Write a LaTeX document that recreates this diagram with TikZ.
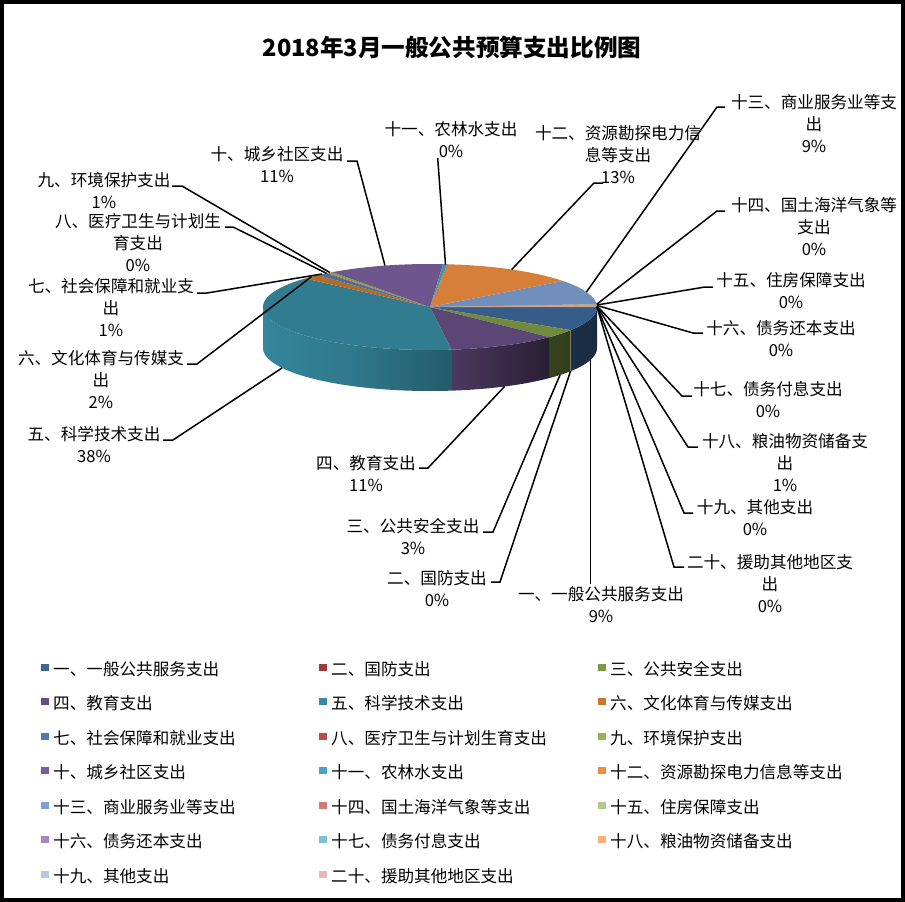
\documentclass[tikz,border=0pt]{standalone}
\usepackage{fontspec}
\newfontfamily\cjk{Noto Sans CJK SC}
\definecolor{c1}{HTML}{3B6596}
\definecolor{c2}{HTML}{9D3B38}
\definecolor{c3}{HTML}{7C9A45}
\definecolor{c4}{HTML}{664E82}
\definecolor{c5}{HTML}{368AA0}
\definecolor{c6}{HTML}{C7772F}
\definecolor{c7}{HTML}{4A7BB7}
\definecolor{c8}{HTML}{B94B48}
\definecolor{c9}{HTML}{93B354}
\definecolor{c10}{HTML}{7A5F9C}
\definecolor{c11}{HTML}{47A4BE}
\definecolor{c12}{HTML}{EE8D42}
\definecolor{c13}{HTML}{7F9FD0}
\definecolor{c14}{HTML}{CC7B78}
\definecolor{c15}{HTML}{AEC98A}
\definecolor{c16}{HTML}{9F8BBA}
\definecolor{c17}{HTML}{7DC0D6}
\definecolor{c18}{HTML}{F8AE78}
\definecolor{c19}{HTML}{B7C8E4}
\definecolor{c20}{HTML}{E3B8B7}
\tikzset{
  leader/.style={draw=black, line width=1.5pt, line join=miter},
  lbl/.style={font=\cjk\fontsize{16.6}{22}\selectfont, align=center, inner sep=0pt},
  legtxt/.style={font=\cjk\fontsize{16.6}{20}\selectfont, anchor=west, inner sep=0pt},
  frame/.style={draw=black, line width=4pt},
}
\newcommand\topsl[3]{\fill[#3] (430,307) -- plot[domain=#1:#2,samples=60,variable=\ang] ({430+167*cos(\ang)},{307+43*sin(\ang)}) -- cycle;}
\newcommand\sidesl[5]{\shade[left color=#3, right color=#5, middle color=#4] plot[domain=#1:#2,samples=60,variable=\ang] ({430+167*cos(\ang)},{307+43*sin(\ang)}) -- plot[domain=#2:#1,samples=60,variable=\ang] ({430+167*cos(\ang)},{348+43*sin(\ang)}) -- cycle;}
\begin{document}
\begin{tikzpicture}[x=1pt,y=-1pt]
\useasboundingbox (0,0) rectangle (905,902);
\fill[white] (0,0) rectangle (905,902);
\draw[frame] (2,2) rectangle (903,900);

% title
\node[font=\cjk\bfseries\fontsize{23.6}{26}\selectfont, inner sep=0pt] (title) at (452,47) {2018年3月一般公共预算支出比例图};

% side faces (front half)
\sidesl{0}{32.4}{c1!47!black}{c1!45!black}{c1!43!black}
\sidesl{32.4}{32.58}{c2!45!black}{c2!44!black}{c2!43!black}
\sidesl{32.58}{44.46}{c3!44!black}{c3!42!black}{c3!40!black}
\sidesl{44.46}{82.62}{c4!74!black}{c4!56!black}{c4!40!black}
\sidesl{82.62}{180}{c5!97!black}{c5!86!black}{c5!66!black}

% top faces
\topsl{0}{32.4}{c1!92!black}
\topsl{32.4}{32.58}{c2!90!black}
\topsl{32.58}{44.46}{c3!90!black}
\topsl{44.46}{82.62}{c4!90!black}
\topsl{82.62}{221.58}{c5!90!black}
\topsl{221.58}{228.06}{c6!90!black}
\topsl{228.06}{231.3}{c7!90!black}
\topsl{231.3}{232.02}{c8!90!black}
\topsl{232.02}{234.18}{c9!90!black}
\topsl{234.18}{274.5}{c10!90!black}
\topsl{274.5}{275.94}{c11!90!black}
\topsl{275.94}{322.74}{c12!90!black}
\topsl{322.74}{356.22}{c13!90!black}
\topsl{356.22}{356.58}{c14!90!black}
\topsl{356.58}{356.94}{c15!90!black}
\topsl{356.94}{357.12}{c16!90!black}
\topsl{357.12}{357.3}{c17!90!black}
\topsl{357.3}{359.82}{c18!90!black}
\topsl{359.82}{359.93}{c19!90!black}
\topsl{359.93}{360}{c20!90!black}

% labels
\node[lbl] (L1) at (601,605) {一、一般公共服务支出\\9\%};
\node[lbl] (L2) at (437,589) {二、国防支出\\0\%};
\node[lbl] (L3) at (413,537) {三、公共安全支出\\3\%};
\node[lbl] (L4) at (366,474) {四、教育支出\\11\%};
\node[lbl] (L5) at (94,445) {五、科学技术支出\\38\%};
\node[lbl] (L6) at (101,380) {六、文化体育与传媒支\\出\\2\%};
\node[lbl] (L7) at (111,308) {七、社会保障和就业支\\出\\1\%};
\node[lbl] (L8) at (138,243) {八、医疗卫生与计划生\\育支出\\0\%};
\node[lbl] (L9) at (104,191) {九、环境保护支出\\1\%};
\node[lbl] (L10) at (277,165) {十、城乡社区支出\\11\%};
\node[lbl] (L11) at (451,140) {十一、农林水支出\\0\%};
\node[lbl] (L12) at (618,155) {十二、资源勘探电力信\\息等支出\\13\%};
\node[lbl] (L13) at (814,124) {十三、商业服务业等支\\出\\9\%};
\node[lbl] (L14) at (814,227) {十四、国土海洋气象等\\支出\\0\%};
\node[lbl] (L15) at (791,291) {十五、住房保障支出\\0\%};
\node[lbl] (L16) at (781,339) {十六、债务还本支出\\0\%};
\node[lbl] (L17) at (768,400) {十七、债务付息支出\\0\%};
\node[lbl] (L18) at (785,463) {十八、粮油物资储备支\\出\\1\%};
\node[lbl] (L19) at (755,518) {十九、其他支出\\0\%};
\node[lbl] (L20) at (770,584) {二十、援助其他地区支\\出\\0\%};

% leader anchor points on the pie
\coordinate (t1) at (590.4,360);
\coordinate (t2) at (570.6,371);
\coordinate (t3) at (560,375);
\coordinate (t4) at (504.5,386.5);
\coordinate (t5) at (282,368);
\coordinate (t6) at (311.5,276.7);
\coordinate (t7) at (322,274);
\coordinate (t8) at (326.5,273.3);
\coordinate (t9) at (330,272.6);
\coordinate (t10) at (385,265.6);
\coordinate (t11) at (445.5,264.5);
\coordinate (t12) at (511.7,269.5);
\coordinate (t13) at (586.4,292);
\coordinate (t14) at (596.7,304.3);
\coordinate (t15) at (597,305);
\coordinate (t16) at (597,305.5);
\coordinate (t17) at (597,306);
\coordinate (t18) at (597,306.5);
\coordinate (t19) at (597,307);
\coordinate (t20) at (597,307);
% elbows
\coordinate (e1) at (590.4,584);
\coordinate (e2) at (500,582);   \coordinate (s2) at (491,582);
\coordinate (e3) at (493,532);   \coordinate (s3) at (483,532);
\coordinate (e4) at (428,468);   \coordinate (s4) at (419,468);
\coordinate (e5) at (173,440);   \coordinate (s5) at (163,440);
\coordinate (e6) at (197,364);   \coordinate (s6) at (187,364);
\coordinate (e7) at (207,293);   \coordinate (s7) at (197,293);
\coordinate (e8) at (233,227);   \coordinate (s8) at (225,227);
\coordinate (e9) at (182,186);   \coordinate (s9) at (172,186);
\coordinate (e10) at (357,161);  \coordinate (s10) at (347,161);
\coordinate (e11) at (437.7,158);
\coordinate (e12) at (594,183);  \coordinate (s12) at (603,183);
\coordinate (e13) at (717,107);  \coordinate (s13) at (725,107);
\coordinate (e14) at (717,211);  \coordinate (s14) at (725,211);
\coordinate (e15) at (705,287);  \coordinate (s15) at (713,287);
\coordinate (e16) at (693,333);  \coordinate (s16) at (703,333);
\coordinate (e17) at (682,396);  \coordinate (s17) at (692,396);
\coordinate (e18) at (688,447);  \coordinate (s18) at (698,447);
\coordinate (e19) at (684,513);  \coordinate (s19) at (693,513);
\coordinate (e20) at (674,567);  \coordinate (s20) at (684,567);

\draw[leader] (t1) -- (e1);
\foreach \i in {2,3,4,5,6,7,8,9,10,12,13,14,15,16,17,18,19,20}{
  \draw[leader] (t\i) -- (e\i) -- (s\i);
}
\draw[leader] (t11) -- (e11);

% legend
\foreach \txt [count=\k from 0] in {一、一般公共服务支出,二、国防支出,三、公共安全支出,四、教育支出,五、科学技术支出,六、文化体育与传媒支出,七、社会保障和就业支出,八、医疗卫生与计划生育支出,九、环境保护支出,十、城乡社区支出,十一、农林水支出,十二、资源勘探电力信息等支出,十三、商业服务业等支出,十四、国土海洋气象等支出,十五、住房保障支出,十六、债务还本支出,十七、债务付息支出,十八、粮油物资储备支出,十九、其他支出,二十、援助其他地区支出}{
  \pgfmathtruncatemacro\col{mod(\k,3)}
  \pgfmathtruncatemacro\row{int(\k/3)}
  \pgfmathtruncatemacro\ci{\k+1}
  \pgfmathsetmacro\sx{{45,323,602}[\col]}
  \pgfmathsetmacro\sy{669+34.5*\row}
  \fill[c\ci] (\sx-3.75,\sy-5.5) rectangle ++(7.5,7);
  \node[legtxt] (leg\ci) at (\sx+8,\sy) {\txt};
}
\end{tikzpicture}
\end{document}
